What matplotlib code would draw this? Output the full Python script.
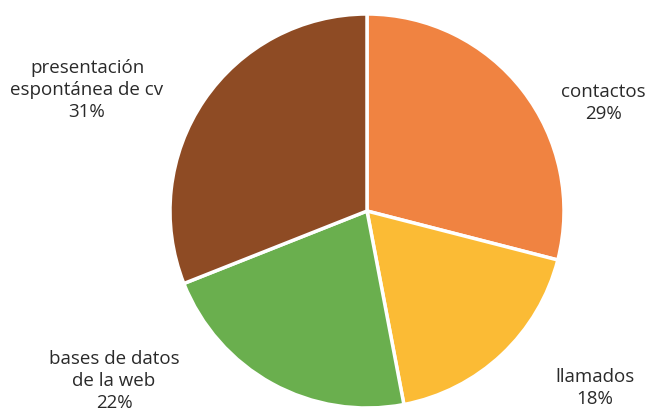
import matplotlib
matplotlib.use("Agg")
import matplotlib.pyplot as plt

categories = ["contactos", "llamados", "bases de datos\nde la web", "presentación\nespontánea de cv"]
values = [29, 18, 22, 31]
colors = ["#F08341", "#FBBB35", "#6AAF4E", "#8E4B24"]
# label centres in pixel coords (x, y from top)
label_pos = [(603, 103), (595, 388), (114, 381), (87, 90)]

plt.rcParams['font.family'] = ['Open Sans', 'DejaVu Sans']

fig = plt.figure(figsize=(6.55, 4.15), dpi=100)
ax = fig.add_axes([0, 0, 1, 1])

ax.pie(values, colors=colors, startangle=90, counterclock=False,
       center=(367, 415 - 211), radius=197, frame=True,
       wedgeprops=dict(edgecolor='white', linewidth=2.5))
ax.set_xlim(0, 655)
ax.set_ylim(0, 415)
ax.axis('off')

for cat, v, (x, y) in zip(categories, values, label_pos):
    ax.text(x, 415 - y, f"{cat}\n{v}%", ha='center', va='center',
            fontsize=13.5, color='#2a2a2a', linespacing=1.3)

fig.savefig("out.png", dpi=100)
